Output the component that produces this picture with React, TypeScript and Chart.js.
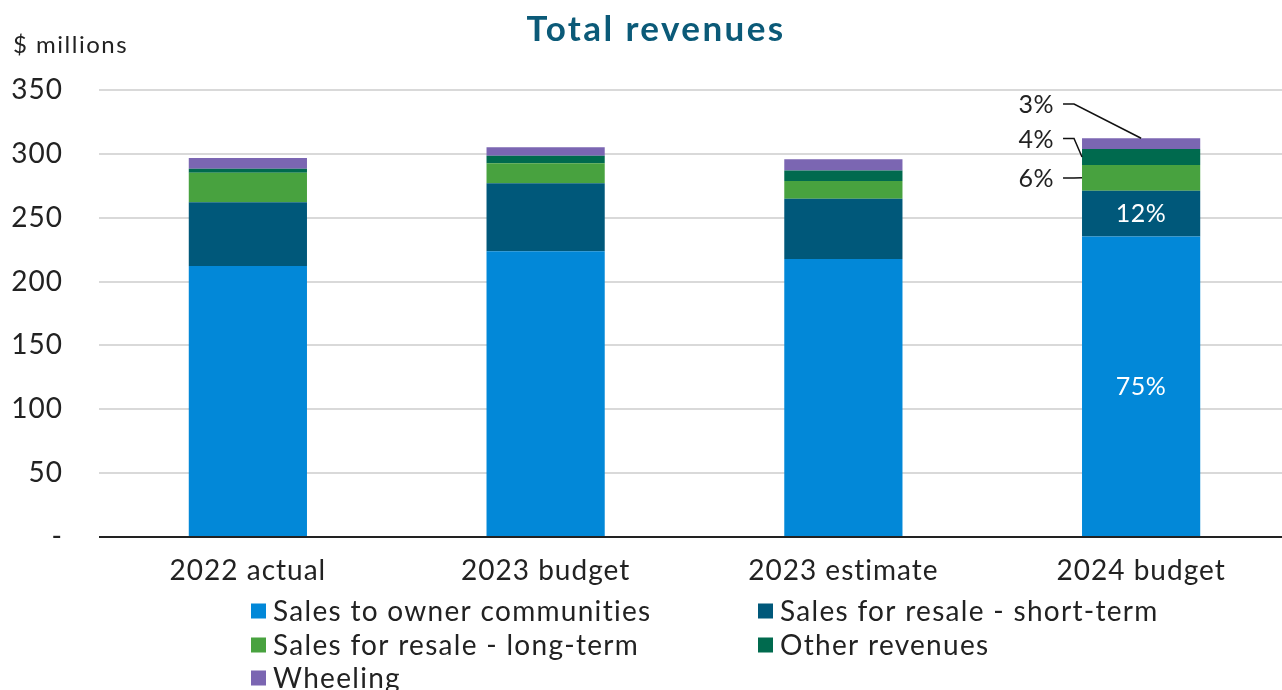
import React, { useEffect, useRef } from "react";
import { Chart, registerables } from "chart.js";

Chart.register(...registerables);

const categories = ["2022 actual", "2023 budget", "2023 estimate", "2024 budget"];
const seriesNames = [
  "Sales to owner communities",
  "Sales for resale - short-term",
  "Sales for resale - long-term",
  "Other revenues",
  "Wheeling",
];
const seriesColors = ["#0288D8", "#00587A", "#48A23F", "#006A4E", "#7B66B2"];
const ownerCommunities = [212.2, 223.7, 217.7, 235.2];
const resaleShortTerm = [49.9, 53.3, 47.2, 36.0];
const resaleLongTerm = [23.1, 15.6, 13.9, 20.1];
const otherRevenues = [3.2, 6.0, 8.1, 12.5];
const wheeling = [8.3, 6.6, 8.9, 8.4];
const yTicks = [0, 50, 100, 150, 200, 250, 300, 350];
// callout label heights (in $ millions) for the small shares of the last bar
const calloutValues = [339, 312, 281];

const FONT = "Lato, 'Open Sans', sans-serif";
const TEXT = "#222222";

const spacingPlugin = {
  id: "spacing",
  beforeDraw(chart: any) {
    chart.ctx.letterSpacing = "1px";
  },
};

const annotatePlugin = {
  id: "annotate",
  afterDraw(chart: any) {
    const ctx = chart.ctx;
    const y = chart.scales.y;
    ctx.save();
    // title
    ctx.fillStyle = "#0B5A78";
    ctx.font = `bold 35px ${FONT}`;
    ctx.letterSpacing = "2.4px";
    ctx.textAlign = "left";
    ctx.textBaseline = "middle";
    const tw = ctx.measureText("Total revenues").width;
    ctx.fillText("Total revenues", 656 - tw / 2, 30);
    // unit
    ctx.fillStyle = TEXT;
    ctx.font = `24px ${FONT}`;
    ctx.letterSpacing = "1.5px";
    ctx.fillText("$ millions", 13, 45);

    // legend
    const legendPos = [
      [251, 611],
      [758, 611],
      [251, 645],
      [758, 645],
      [251, 678],
    ];
    ctx.font = `28px ${FONT}`;
    ctx.letterSpacing = "1.3px";
    seriesNames.forEach((name, i) => {
      const [lx, ly] = legendPos[i];
      ctx.fillStyle = seriesColors[i];
      ctx.fillRect(lx, ly - 7.5, 15, 15);
      ctx.fillStyle = TEXT;
      ctx.textAlign = "left";
      ctx.textBaseline = "middle";
      ctx.fillText(name, lx + 22, ly + 1);
    });

    // percentage labels on last bar
    const last = categories.length - 1;
    const values = chart.data.datasets.map((d: any) => d.data[last]);
    const total = values.reduce((a: number, b: number) => a + b, 0);
    const pct = values.map((v: number) => Math.round((v / total) * 100) + "%");
    const meta0 = chart.getDatasetMeta(0).data[last];
    const cx = meta0.x;
    const left = cx - meta0.width / 2;
    const cum: number[] = [];
    let acc = 0;
    values.forEach((v: number) => {
      cum.push(acc);
      acc += v;
    });
    const mid = (i: number) => y.getPixelForValue(cum[i] + values[i] / 2);

    ctx.font = `25px ${FONT}`;
    ctx.letterSpacing = "0.5px";
    ctx.fillStyle = "#ffffff";
    ctx.textAlign = "center";
    ctx.fillText(pct[0], cx, mid(0));
    ctx.fillText(pct[1], cx, mid(1));

    // callouts
    ctx.fillStyle = TEXT;
    ctx.strokeStyle = "#111111";
    ctx.lineWidth = 1.5;
    ctx.textAlign = "right";
    const targets = [
      { i: 4, ty: calloutValues[0], ex: cx, ey: y.getPixelForValue(total) },
      { i: 3, ty: calloutValues[1], ex: left, ey: mid(3) },
      { i: 2, ty: calloutValues[2], ex: left, ey: mid(2) },
    ];
    targets.forEach((t) => {
      const py = y.getPixelForValue(t.ty);
      ctx.fillText(pct[t.i], left - 28, py + 1);
      ctx.beginPath();
      ctx.moveTo(left - 19, py);
      ctx.lineTo(left - 8, py);
      ctx.lineTo(t.ex, t.ey);
      ctx.stroke();
    });
    ctx.restore();
  },
};

export default function App() {
  const ref = useRef<HTMLCanvasElement | null>(null);
  useEffect(() => {
    if (!ref.current) return;
    const dataSeries = [ownerCommunities, resaleShortTerm, resaleLongTerm, otherRevenues, wheeling];
    const chart = new Chart(ref.current, {
      type: "bar",
      data: {
        labels: categories,
        datasets: dataSeries.map((d, i) => ({
          label: seriesNames[i],
          data: d,
          backgroundColor: seriesColors[i],
          borderWidth: 0,
          categoryPercentage: 1,
          barPercentage: 0.397,
        })),
      },
      options: {
        animation: false,
        responsive: false,
        maintainAspectRatio: false,
        layout: { padding: { top: 90, left: 0, right: 0, bottom: 0 } },
        plugins: {
          legend: { display: false },
          title: { display: false },
          tooltip: { enabled: false },
        },
        scales: {
          x: {
            stacked: true,
            grid: { display: false, drawTicks: false },
            border: { display: false },
            ticks: { color: TEXT, font: { family: FONT, size: 28 }, padding: 17 },
            afterFit: (s: any) => {
              s.height = 153;
            },
          },
          y: {
            stacked: true,
            min: 0,
            max: 350,
            afterBuildTicks: (s: any) => {
              s.ticks = yTicks.map((v) => ({ value: v }));
            },
            grid: {
              drawTicks: false,
              color: (c: any) => (c.tick && c.tick.value === 0 ? "#222222" : "#d9d9d9"),
              lineWidth: 2,
            },
            border: { display: false },
            ticks: {
              color: TEXT,
              font: { family: FONT, size: 28 },
              padding: 36,
              callback: (v: any) => (v === 0 ? "-" : String(v)),
            },
            afterFit: (s: any) => {
              s.width = 99;
            },
          },
        },
      },
      plugins: [spacingPlugin, annotatePlugin],
    });
    return () => chart.destroy();
  }, []);
  return (
    <div style={{ position: "fixed", left: 0, top: 0, width: 1282, height: 690, overflow: "hidden", background: "#fff" }}>
      <canvas ref={ref} width={1290} height={690} style={{ display: "block", width: 1290, height: 690 }} />
    </div>
  );
}
